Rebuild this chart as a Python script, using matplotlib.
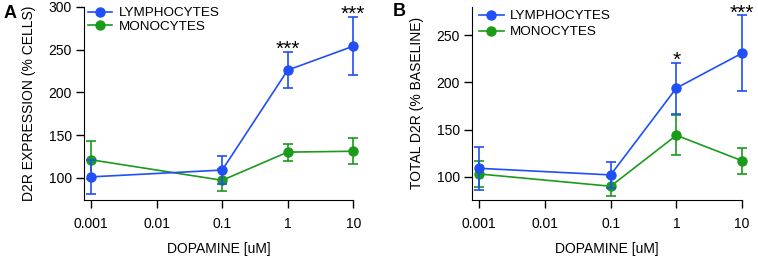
import matplotlib
matplotlib.use("Agg")
import matplotlib.pyplot as plt
from matplotlib.lines import Line2D

plt.rcParams['font.family'] = ['Liberation Sans', 'DejaVu Sans']

dose = [0.001, 0.1, 1, 10]
xticks = [0.001, 0.01, 0.1, 1, 10]
xticklabels = ['0.001', '0.01', '0.1', '1', '10']

# Panel A
a_lym = [101, 109, 226, 254]
a_lym_err = [20, 16, 21, 34]
a_mono = [121, 97, 130, 131]
a_mono_err = [22, 13, 10, 15]
a_stars = ['', '', '***', '***']

# Panel B
b_lym = [109, 102, 194, 231]
b_lym_err = [23, 14, 27, 40]
b_mono = [103, 90, 144, 117]
b_mono_err = [14, 10, 21, 14]
b_stars = ['', '', '*', '***']

BLUE = '#1f4ff5'
GREEN = '#1c9a1c'
FS = 10

fig = plt.figure(figsize=(7.58, 2.56), dpi=100)
axA = fig.add_axes([0.111, 0.219, 0.355, 0.754])
axB = fig.add_axes([0.623, 0.219, 0.356, 0.754])

def panel(ax, lym, lym_err, mono, mono_err, stars, ylim, yticks, ylabel, leg_anchor, leg_sp):
    ax.errorbar(dose, lym, yerr=lym_err, color=BLUE, marker='o', ms=6.5, lw=1.2,
                capsize=3.5, elinewidth=1.2, capthick=1.2, zorder=3, clip_on=False)
    ax.errorbar(dose, mono, yerr=mono_err, color=GREEN, marker='o', ms=6.5, lw=1.2,
                capsize=3.5, elinewidth=1.2, capthick=1.2, zorder=2, clip_on=False)
    ax.set_xscale('log')
    ax.set_xlim(10**-3.107, 10)
    ax.set_ylim(*ylim)
    ax.set_xticks(xticks)
    ax.set_xticklabels(xticklabels)
    ax.minorticks_off()
    ax.set_yticks(yticks)
    ax.spines['top'].set_visible(False)
    ax.spines['right'].set_visible(False)
    ax.tick_params(direction='out', length=6, width=1, labelsize=FS)
    ax.tick_params(axis='x', pad=6)
    ax.tick_params(axis='y', pad=3)
    ax.set_xlabel('DOPAMINE [uM]', fontsize=FS, labelpad=8)
    ax.set_ylabel(ylabel, fontsize=FS, labelpad=9)
    for x, y, e, s in zip(dose, lym, lym_err, stars):
        if s:
            ax.annotate(s, (x, y + e), xytext=(0, -5), textcoords='offset points',
                        ha='center', va='bottom', fontsize=15, annotation_clip=False)
    handles = [Line2D([], [], color=BLUE, marker='o', ms=6.5, lw=1.2),
               Line2D([], [], color=GREEN, marker='o', ms=6.5, lw=1.2)]
    ax.legend(handles, ['LYMPHOCYTES', 'MONOCYTES'], loc='upper left',
              bbox_to_anchor=leg_anchor, frameon=False, fontsize=9.7,
              handlelength=1.8, handletextpad=0.5, borderaxespad=0,
              borderpad=0, labelspacing=leg_sp)

panel(axA, a_lym, a_lym_err, a_mono, a_mono_err, a_stars, (74, 300),
      [100, 150, 200, 250, 300], 'D2R EXPRESSION (% CELLS)', (0.014, 1.0), 0.1)
panel(axB, b_lym, b_lym_err, b_mono, b_mono_err, b_stars, (75.5, 280),
      [100, 150, 200, 250], 'TOTAL D2R (% BASELINE)', (0.026, 0.985), 0.27)

fig.text(4 / 758, 1 - 13 / 256, 'A', fontsize=13, fontweight='bold', ha='left', va='center')
fig.text(393 / 758, 1 - 11 / 256, 'B', fontsize=13, fontweight='bold', ha='left', va='center')

fig.savefig('out.png', dpi=100)
